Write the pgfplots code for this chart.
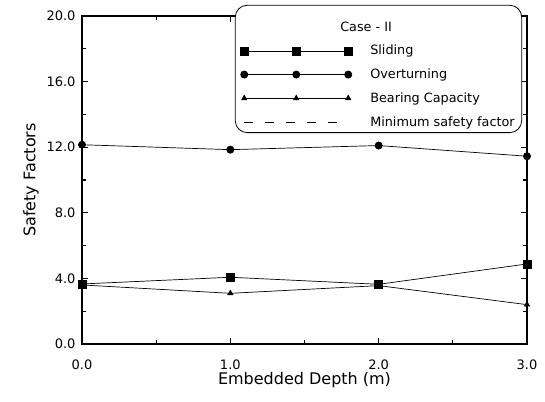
\documentclass[border=0pt]{standalone}
\usepackage{fontspec}
\setmainfont{DejaVu Sans}
\usepackage{pgfplots}
\pgfplotsset{compat=1.18}
\usetikzlibrary{calc}
\newcommand{\tl}[1]{{\fontsize{13}{15}\selectfont #1}}
\pgfplotsset{
  threemark/.style={legend image code/.code={\draw[##1] plot coordinates {(0pt,0pt) (52pt,0pt) (104pt,0pt)};}},
  dashleg/.style={legend image code/.code={\draw[##1] (0pt,0pt) -- (104pt,0pt);}},
}
\begin{document}
\begin{tikzpicture}
\begin{axis}[
  name=ax,
  scale only axis,
  width=445pt, height=328pt,
  xmin=0, xmax=3, ymin=0, ymax=20,
  xtick={0,1,2,3}, minor xtick={0.5,1.5,2.5},
  ytick={0,4,8,12,16,20}, minor ytick={2,6,10,14,18},
  xticklabels={\tl{0.0},\tl{1.0},\tl{2.0},\tl{3.0}},
  yticklabels={\tl{0.0},\tl{4.0},\tl{8.0},\tl{12.0},\tl{16.0},\tl{20.0}},
  tick align=inside,
  major tick length=6pt, minor tick length=4pt,
  tick style={line width=1.2pt, black},
  axis line style={line width=1.6pt},
  xticklabel style={yshift=-12pt},
  yticklabel style={xshift=-3pt},
  xtick pos=both, ytick pos=both,
  xlabel={Embedded Depth (m)},
  ylabel={Safety Factors},
  label style={font=\fontsize{16}{18}\selectfont},
  xlabel style={yshift=4pt},
  ylabel style={yshift=1pt},
  legend cell align=left,
  legend style={at={(rel axis cs:0.989,1.034)}, anchor=north east,
    draw=black, line width=0.8pt, rounded corners=12pt,
    font=\fontsize{12.8}{14}\selectfont,
    row sep=8.5pt, inner xsep=5pt, inner ysep=3pt,
    /tikz/every odd column/.append style={column sep=16pt}},
]
\addlegendimage{empty legend}
\addlegendentry{\rule{0pt}{21pt}\hspace*{-30pt}Case - II}
\addplot[black, line width=0.7pt, mark=square*, mark size=4pt, threemark]
  coordinates {(0,3.66) (1,4.07) (2,3.64) (3,4.88)};
\addlegendentry{Sliding}
\addplot[black, line width=0.7pt, mark=*, mark size=3.6pt, threemark]
  coordinates {(0,12.15) (1,11.85) (2,12.1) (3,11.45)};
\addlegendentry{Overturning}
\addplot[black, line width=0.7pt, mark=triangle*, mark size=3pt, threemark]
  coordinates {(0,3.6) (1,3.09) (2,3.56) (3,2.4)};
\addlegendentry{Bearing Capacity}
\addlegendimage{black, line width=0.6pt, dash pattern=on 9pt off 12pt, dashleg}
\addlegendentry{Minimum safety factor}
\end{axis}
\path ($(ax.south west)+(-82pt,-57pt)$) rectangle ($(ax.north east)+(18pt,16pt)$);
\end{tikzpicture}
\end{document}
